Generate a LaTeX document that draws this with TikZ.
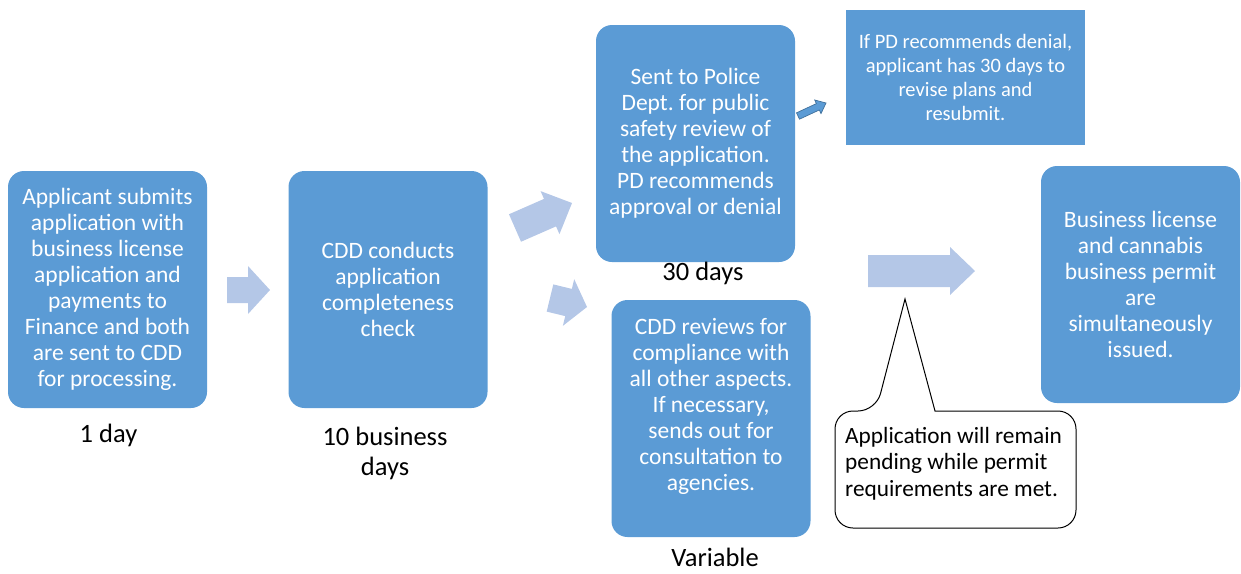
\documentclass[tikz,border=0pt]{standalone}
\usepackage{fontspec}
\setmainfont{Carlito}
\frenchspacing
\usetikzlibrary{calc}
\definecolor{boxblue}{HTML}{5B9BD5}
\definecolor{arrowblue}{HTML}{B4C7E7}
\definecolor{darkblue}{HTML}{41719C}
\tikzset{
  stepbox/.style={fill=boxblue, rounded corners=16pt, text=white, align=center,
    minimum width=199pt, minimum height=237pt, inner sep=0pt,
    font=\fontsize{23.5}{26}\selectfont},
  boxtext/.style={text=white, align=center, inner sep=0pt, font=\fontsize{23.5}{26}\selectfont},
  notebox/.style={fill=boxblue, text=white, align=center, minimum width=239pt,
    minimum height=135pt, inner sep=0pt, font=\fontsize{20.5}{24.3}\selectfont},
  timelabel/.style={text=black, align=center, inner sep=0pt, font=\fontsize{26.5}{30}\selectfont},
  callouttext/.style={text=black, align=left, inner sep=0pt, anchor=west, font=\fontsize{23.3}{26.5}\selectfont},
  calloutshape/.style={draw=black, line width=1pt, fill=white},
  flowarrow/.style={fill=arrowblue},
  smallarrow/.style={fill=boxblue, draw=darkblue, line width=0.7pt},
}
\newcommand\blockarrow[6]{%
  \path ($(#3)!#6!(#2)$) coordinate (h);
  \path[#1] ($(#2)!#4!90:(#3)$) -- ($(h)!#4!90:(#3)$) -- ($(h)!#5!90:(#3)$) -- (#3)
    -- ($(h)!#5!-90:(#3)$) -- ($(h)!#4!-90:(#3)$) -- ($(#2)!#4!-90:(#3)$) -- cycle;}
\begin{document}
\begin{tikzpicture}[x=1pt,y=-1pt]
\useasboundingbox (0,0) rectangle (1241,573);

% boxes
\node[stepbox] (a) at (107.5,289.5) {Applicant submits\\application with\\business license\\application and\\payments to\\Finance and both\\are sent to CDD\\for processing.};
\node[stepbox] (b) at (388,289.5) {CDD conducts\\application\\completeness\\check};
\node[stepbox] (c) at (695.5,143.5) {Sent to Police\\Dept. for public\\safety review of\\the application.\\PD recommends\\approval or denial};
\node[stepbox] (d) at (711,418.5) {};
\node[boxtext] (dt) at (711,406) {CDD reviews for\\compliance with\\all other aspects.\\If necessary,\\sends out for\\consultation to\\agencies.};
\node[notebox] (e) at (965.5,77.5) {If PD recommends denial,\\applicant has 30 days to\\revise plans and\\resubmit.};
\node[stepbox] (f) at (1140.5,284.5) {Business license\\and cannabis\\business permit\\are\\simultaneously\\issued.};

% time labels
\node[timelabel, anchor=base] (la) at (108.5,442) {1 day};
\node[timelabel] (lb) at (385,453) {10 business\\days};
\node[timelabel] (lc) at (703,273) {30 days};
\node[timelabel, anchor=base] (ld) at (715,566) {Variable};

% block arrows
\coordinate (t1) at (227,290); \coordinate (p1) at (270,290);
\blockarrow{flowarrow}{t1}{p1}{13pt}{24pt}{22pt}
\coordinate (t2) at (515,228); \coordinate (p2) at (572,203);
\blockarrow{flowarrow}{t2}{p2}{15pt}{23.5pt}{24pt}
\coordinate (t3) at (550,298); \coordinate (p3) at (587,307);
\blockarrow{flowarrow}{t3}{p3}{14pt}{24pt}{19pt}
\coordinate (t4) at (798,116); \coordinate (p4) at (826,103);
\blockarrow{smallarrow}{t4}{p4}{3.5pt}{7.5pt}{9pt}
\coordinate (t5) at (868,271); \coordinate (p5) at (975,271);
\blockarrow{flowarrow}{t5}{p5}{16pt}{24pt}{25pt}

% callout
\coordinate (ctip) at (905,299);
\draw[calloutshape, rounded corners=18pt] (935,411) -- (1076,411) -- (1076,528) -- (835,528) -- (835,411) -- (876,411) [sharp corners] -- (ctip) -- cycle;
\node[callouttext] (g) at (845,463.5) {Application will remain\\pending while permit\\requirements are met.};
\end{tikzpicture}
\end{document}
